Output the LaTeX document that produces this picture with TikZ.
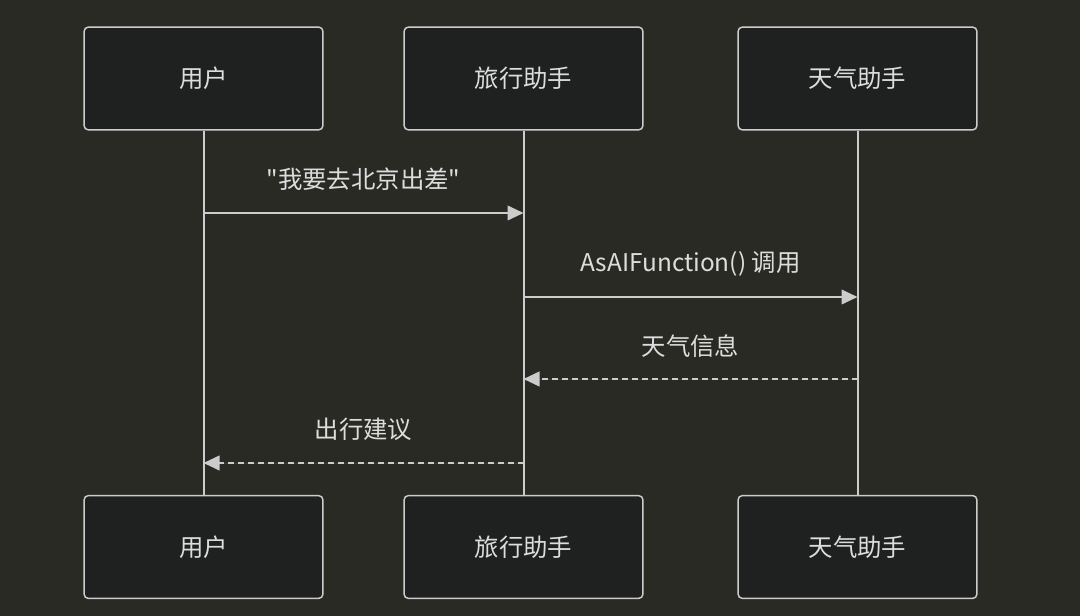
\documentclass[tikz,border=0pt]{standalone}
\usepackage{fontspec}
\newfontfamily\cjk{Noto Sans CJK SC}
\usetikzlibrary{arrows.meta,positioning,calc}
\definecolor{bg}{HTML}{2A2A25}
\definecolor{boxfill}{HTML}{1F2020}
\definecolor{wire}{HTML}{CCCCCC}
\definecolor{ink}{HTML}{DDDDDD}
\tikzset{
  actor/.style={draw=wire,line width=1.1pt,rounded corners=3pt,fill=boxfill,minimum width=179pt,minimum height=77pt,inner sep=0pt,font=\cjk\fontsize{18.3}{22}\selectfont,text=ink},
  life/.style={draw=wire,line width=1.5pt},
  msg/.style={-{Triangle[length=12pt,width=11pt]},draw=wire,fill=wire,line width=1.4pt},
  reply/.style={msg,dash pattern=on 4.5pt off 3pt},
  lbl/.style={font=\cjk\fontsize{18.3}{22}\selectfont,text=ink,inner sep=0pt},
}
\begin{document}
\begin{tikzpicture}[x=0.75pt,y=-0.75pt]
  \fill[bg] (0,0) rectangle (1080,616);
  \useasboundingbox (0,0) rectangle (1080,616);
  \foreach \n/\x/\lbl in {user/203.5/用户,travel/523.5/旅行助手,weather/857.5/天气助手} {
    \node[actor] (\n Top) at (\x,78.5) {\lbl};
    \node[actor] (\n Bot) at (\x,547) {\lbl};
  }
  \foreach \n in {user,travel,weather} { \draw[life] (\n Top.south) -- (\n Bot.north); }
  % message rows
  \coordinate (m1) at (0,213);
  \coordinate (m2) at (0,297);
  \coordinate (m3) at (0,379);
  \coordinate (m4) at (0,463);
  \draw[msg] (userTop.south |- m1) -- node[lbl,midway,yshift=25pt]{"我要去北京出差"} (travelTop.south |- m1);
  \draw[msg] (travelTop.south |- m2) -- node[lbl,midway,yshift=25pt]{AsAIFunction() 调用} (weatherTop.south |- m2);
  \draw[reply] (weatherTop.south |- m3) -- node[lbl,midway,yshift=25pt]{天气信息} (travelTop.south |- m3);
  \draw[reply] (travelTop.south |- m4) -- node[lbl,midway,yshift=25pt]{出行建议} (userTop.south |- m4);
\end{tikzpicture}
\end{document}
